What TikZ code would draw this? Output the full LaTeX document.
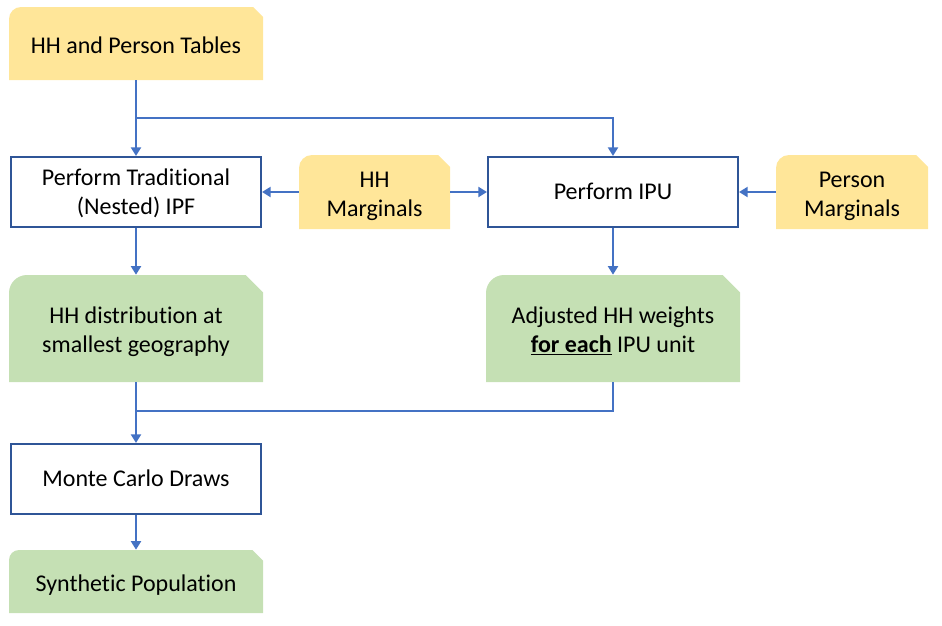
\documentclass[tikz,border=0pt]{standalone}
\usepackage{fontspec}
\setmainfont{Carlito}[Ligatures=NoCommon]
\usetikzlibrary{arrows.meta}
\definecolor{ylw}{HTML}{FFE699}
\definecolor{grn}{HTML}{C5E0B4}
\definecolor{bxbd}{HTML}{2F5597}
\definecolor{arrc}{HTML}{4472C4}
\newcommand\snipfill[3]{%
  \fill[#1] (path picture bounding box.south west) -- (path picture bounding box.south east)
   -- ([yshift=-#3]path picture bounding box.north east) -- ([xshift=-#3]path picture bounding box.north east)
   -- ([xshift=#2]path picture bounding box.north west) arc[start angle=90,end angle=180,radius=#2] -- cycle;}
\tikzset{
  txt/.style={font=\fontsize{18}{21.5}\selectfont, align=center, inner sep=0pt},
  oneline/.style={text height=11.6pt, text depth=0pt},
  twoline/.style={text height=33.1pt, text depth=0pt},
  loweri/.style={text height=14.6pt, text depth=0pt},
  lowerii/.style={text height=36.1pt, text depth=0pt},
  procbox/.style={txt, draw=bxbd, line width=1.5pt, fill=white, minimum width=187.5pt, minimum height=52.5pt},
  shapebox/.style n args={5}{txt, fill=white, minimum width=#2, minimum height=#3,
     path picture={\snipfill{#1}{#4}{#5}}},
  conn/.style={draw=arrc, line width=2.1pt},
  arr/.style={conn, -{Triangle[length=6.5pt,width=7.5pt]}}
}
\begin{document}
\begin{tikzpicture}[x=0.75pt,y=-0.75pt]
\useasboundingbox (0,0) rectangle (942,625);
\node[shapebox={ylw}{190.5pt}{54.75pt}{9pt}{7.5pt}, loweri] (tab) at (136,43.5) {HH and Person Tables};
\node[procbox, twoline] (trad) at (136,192) {Perform Traditional\\(Nested) IPF};
\node[shapebox={ylw}{113.25pt}{55.5pt}{9.75pt}{9pt}, lowerii] (hhm) at (374.5,192) {HH\\Marginals};
\node[procbox, oneline] (ipu) at (613,192) {Perform IPU};
\node[shapebox={ylw}{114pt}{55.5pt}{9.75pt}{9pt}, lowerii] (pm) at (852,192) {Person\\Marginals};
\node[shapebox={grn}{190.5pt}{80.25pt}{13.5pt}{13pt}, lowerii] (hhd) at (136,328.5) {HH distribution at\\smallest geography};
\node[shapebox={grn}{190.5pt}{80.25pt}{13.5pt}{13pt}, lowerii] (adj) at (613,328.5) {Adjusted HH weights\\\textbf{\underline{for each}} IPU unit};
\node[procbox, oneline] (mc) at (136,479) {Monte Carlo Draws};
\node[shapebox={grn}{190.5pt}{47.25pt}{7.5pt}{8pt}, loweri] (syn) at (136,581.5) {Synthetic Population};
\coordinate (br) at (136,118);
\coordinate (mg) at (136,411);
\draw[arr] (tab) -- (trad);
\draw[arr] (br) -| (ipu);
\draw[arr] (hhm) -- (trad);
\draw[arr] (hhm) -- (ipu);
\draw[arr] (pm) -- (ipu);
\draw[arr] (trad) -- (hhd);
\draw[arr] (ipu) -- (adj);
\draw[arr] (hhd) -- (mc);
\draw[conn] (adj) |- (mg);
\draw[arr] (mc) -- (syn);
\end{tikzpicture}
\end{document}
